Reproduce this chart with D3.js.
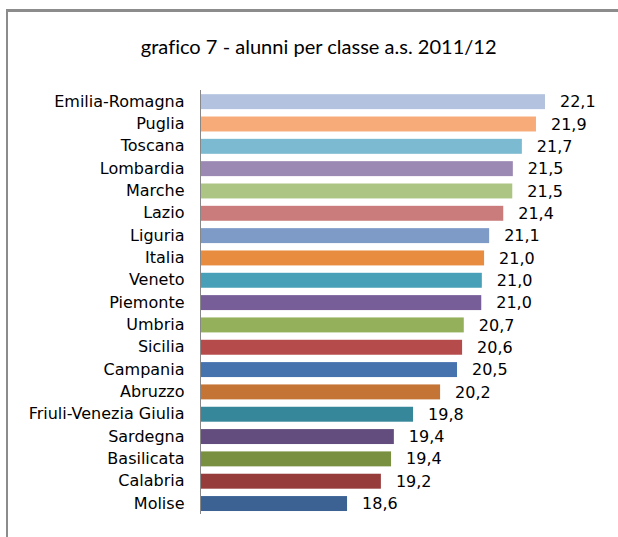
<!DOCTYPE html>
<html>
<head>
<meta charset="utf-8">
<script src="https://cdn.jsdelivr.net/npm/d3@7"></script>
<style>
  html, body { margin: 0; padding: 0; background: #fff; overflow: hidden; }
  svg { display: block; }
  text { font-variant-ligatures: none; font-feature-settings: "liga" 0; }
</style>
</head>
<body>
<svg id="chart" width="618" height="537"></svg>
<script>
const title = "grafico 7 - alunni per classe a.s. 2011/12";
const categories = ["Emilia-Romagna","Puglia","Toscana","Lombardia","Marche","Lazio","Liguria","Italia","Veneto","Piemonte","Umbria","Sicilia","Campania","Abruzzo","Friuli-Venezia Giulia","Sardegna","Basilicata","Calabria","Molise"];
const values = [22.10,21.94,21.69,21.53,21.52,21.36,21.11,21.02,20.98,20.97,20.66,20.63,20.54,20.24,19.76,19.42,19.37,19.19,18.59];
const colors = ["#b3c2de","#f7ab78","#7bbad0","#9b88b3","#adc584","#c97c7b","#7e9bc8","#e88d3f","#47a0b8","#775e98","#94b05a","#b54b4a","#4672ae","#c47535","#37879b","#624d7e","#799040","#963d3b","#3c6294"];
const xDomain = [16, 23];

const svg = d3.select("#chart");

// frame
svg.append("line").attr("x1", 7).attr("x2", 618).attr("y1", 10.5).attr("y2", 10.5)
  .attr("stroke", "#8c8c8c").attr("stroke-width", 3);
svg.append("line").attr("x1", 7).attr("x2", 7).attr("y1", 9).attr("y2", 537)
  .attr("stroke", "#8c8c8c").attr("stroke-width", 2);

// title
const t = svg.append("text").attr("x", 318.7).attr("y", 54)
  .attr("text-anchor", "middle")
  .style("font-family", "Lato, 'Open Sans', sans-serif")
  .style("font-size", "18px").attr("fill", "#000").text(title);
const tw = t.node().getComputedTextLength();
t.style("font-size", (18 * 356 / tw) + "px");

const x = d3.scaleLinear().domain(xDomain).range([201, 201 + 7 * 56.39]);
const y = d3.scaleBand().domain(categories).range([90.5, 514.7])
  .paddingInner(0.33).paddingOuter(0.165);

// bars
svg.append("g").selectAll("rect").data(categories).join("rect")
  .attr("x", x(xDomain[0]))
  .attr("y", d => y(d))
  .attr("width", (d, i) => x(values[i]) - x(xDomain[0]))
  .attr("height", y.bandwidth())
  .attr("fill", (d, i) => colors[i]);

// y axis
const yAxis = svg.append("g").attr("transform", "translate(200.5,0)")
  .call(d3.axisLeft(y).tickSize(0).tickPadding(16));
yAxis.select(".domain").attr("stroke", "#888").attr("d", "M0,90V514");
yAxis.selectAll("text")
  .style("font-family", "'DejaVu Sans', Verdana, sans-serif")
  .style("font-size", "16px").attr("fill", "#000");

// value labels
const fmt = v => d3.format(".1f")(v).replace(".", ",");
svg.append("g").selectAll("text").data(categories).join("text")
  .attr("x", (d, i) => x(values[i]) + 15)
  .attr("y", d => y(d) + y.bandwidth() / 2)
  .attr("dy", "0.35em")
  .style("font-family", "'DejaVu Sans', Verdana, sans-serif")
  .style("font-size", "16px").attr("fill", "#000")
  .text((d, i) => fmt(values[i]));
</script>
</body>
</html>
